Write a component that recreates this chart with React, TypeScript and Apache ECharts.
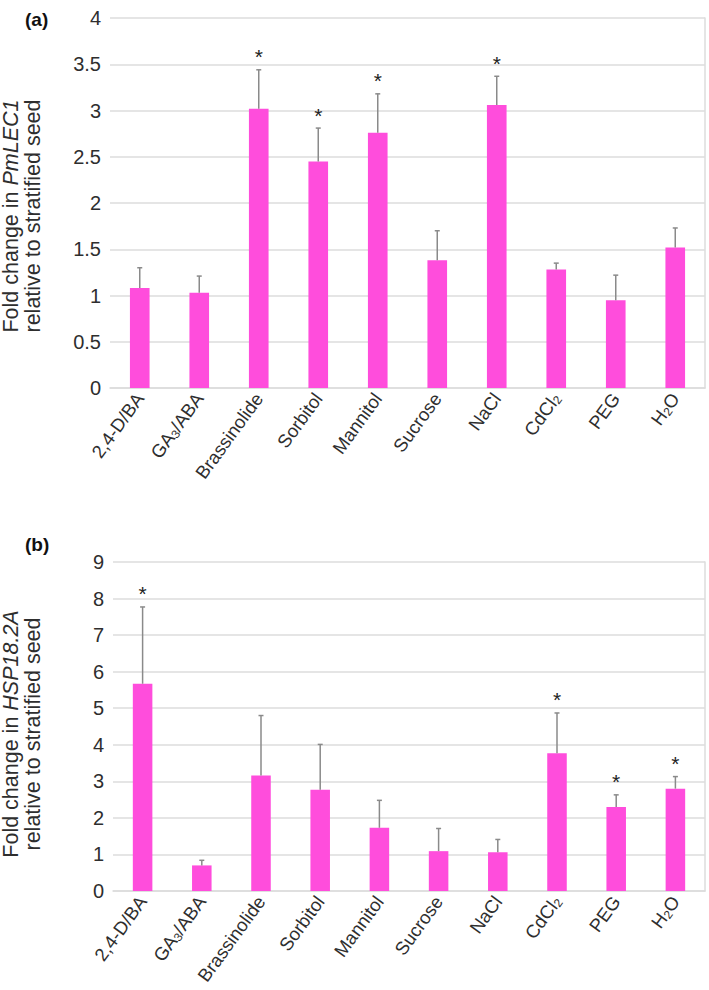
import React, { useEffect, useRef } from "react";
import * as echarts from "echarts";

const categories = ["2,4-D/BA", "GA3/ABA", "Brassinolide", "Sorbitol", "Mannitol", "Sucrose", "NaCl", "CdCl2", "PEG", "H2O"];

// (a) PmLEC1
const valuesA = [1.08, 1.03, 3.02, 2.45, 2.76, 1.38, 3.06, 1.28, 0.95, 1.52];
const errorsA = [0.22, 0.18, 0.42, 0.36, 0.42, 0.32, 0.31, 0.07, 0.27, 0.21];
const sigA = [0, 0, 1, 1, 1, 0, 1, 0, 0, 0];

// (b) HSP18.2A
const valuesB = [5.67, 0.7, 3.16, 2.77, 1.73, 1.09, 1.06, 3.77, 2.3, 2.8];
const errorsB = [2.1, 0.14, 1.64, 1.24, 0.75, 0.62, 0.35, 1.1, 0.33, 0.33];
const sigB = [1, 0, 0, 0, 0, 0, 0, 1, 1, 1];

const FONT = "'Liberation Sans', Arial, sans-serif";
const BAR = "#ff4ddc";
const GRID = "#dcdcdc";
const TXT = "#2e2e2e";

const subLabel = (s: string) => s.replace(/([A-Za-z])(\d)/g, "$1{s|$2}");

function errSeries(xi: number, vals: number[], errs: number[], sig: number[]) {
  return {
    type: "custom",
    xAxisIndex: xi,
    yAxisIndex: xi * 2,
    z: 5,
    data: vals.map((v, i) => [i, v, errs[i], sig[i]]),
    renderItem: (params: any, api: any) => {
      const i = api.value(0);
      const v = api.value(1);
      const e = api.value(2);
      const s = api.value(3);
      const base = api.coord([i, v]);
      const top = api.coord([i, v + e]);
      const children: any[] = [
        { type: "line", shape: { x1: base[0], y1: base[1], x2: top[0], y2: top[1] }, style: { stroke: "#8a8a8a", lineWidth: 1.5 } },
        { type: "line", shape: { x1: top[0] - 2.5, y1: top[1], x2: top[0] + 2.5, y2: top[1] }, style: { stroke: "#8a8a8a", lineWidth: 1.5 } },
      ];
      if (s) {
        children.push({
          type: "text",
          x: top[0],
          y: top[1] - 13,
          style: { text: "*", fontSize: 21, fontFamily: FONT, fill: "#222", align: "center", verticalAlign: "middle" },
        });
      }
      return { type: "group", children };
    },
  };
}

function xAxis(gi: number) {
  return {
    type: "category",
    gridIndex: gi,
    data: categories,
    axisLine: { show: true, lineStyle: { color: GRID, width: 1.5 } },
    axisTick: { show: false },
    axisLabel: {
      rotate: 54,
      interval: 0,
      margin: 7,
      color: TXT,
      fontSize: 18.5,
      fontFamily: FONT,
      lineHeight: 20,
      formatter: (v: string) => subLabel(v),
      rich: { s: { fontSize: 12, fontFamily: FONT, color: TXT, lineHeight: 7, verticalAlign: "bottom" } },
    },
  };
}

function yAxis(gi: number, max: number, interval: number) {
  return {
    type: "value",
    gridIndex: gi,
    min: 0,
    max,
    interval,
    axisLine: { show: false },
    axisTick: { show: false },
    axisLabel: { color: TXT, fontSize: 20, fontFamily: FONT, margin: 9 },
    splitLine: { lineStyle: { color: GRID, width: 1.5 } },
  };
}

function borderAxis(gi: number, max: number) {
  return {
    type: "value",
    gridIndex: gi,
    position: "right",
    min: 0,
    max,
    axisLine: { show: true, lineStyle: { color: GRID, width: 1.5 } },
    axisTick: { show: false },
    axisLabel: { show: false },
    splitLine: { show: false },
  };
}

export default function App() {
  const ref = useRef<HTMLDivElement>(null);
  useEffect(() => {
    if (!ref.current) return;
    const chart = echarts.init(ref.current, null, { renderer: "svg" });
    const titleStyle = (line1: string, gene: string) => ({
      text: `${line1}{i|${gene}}\nrelative to stratified seed`,
      fontSize: 21.5,
      fontFamily: FONT,
      fill: TXT,
      align: "center",
      verticalAlign: "middle",
      lineHeight: 22,
      rich: { i: { fontSize: 21.5, fontFamily: FONT, fontStyle: "italic", fill: TXT, lineHeight: 22 } },
    });
    chart.setOption({
      animation: false,
      backgroundColor: "#ffffff",
      grid: [
        { left: 110, right: 4, top: 18, height: 370, outerBoundsMode: "none" },
        { left: 113, right: 4, top: 562, height: 329, outerBoundsMode: "none" },
      ],
      xAxis: [xAxis(0), xAxis(1)],
      yAxis: [yAxis(0, 4, 0.5), borderAxis(0, 4), yAxis(1, 9, 1), borderAxis(1, 9)],
      series: [
        { type: "bar", xAxisIndex: 0, yAxisIndex: 0, data: valuesA, barWidth: "33%", itemStyle: { color: BAR } },
        errSeries(0, valuesA, errorsA, sigA),
        { type: "bar", xAxisIndex: 1, yAxisIndex: 2, data: valuesB, barWidth: "33%", itemStyle: { color: BAR } },
        errSeries(1, valuesB, errorsB, sigB),
      ],
      graphic: [
        { type: "text", left: 25, top: 10, style: { text: "(a)", fontSize: 19, fontWeight: "bold", fontFamily: FONT, fill: "#111" } },
        { type: "text", left: 25, top: 535, style: { text: "(b)", fontSize: 19, fontWeight: "bold", fontFamily: FONT, fill: "#111" } },
        { type: "text", x: 22, y: 216, rotation: Math.PI / 2, style: titleStyle("Fold change in ", "PmLEC1") },
        { type: "text", x: 22, y: 734, rotation: Math.PI / 2, style: titleStyle("Fold change in ", "HSP18.2A") },
      ],
    });
    return () => chart.dispose();
  }, []);
  return <div ref={ref} style={{ position: "absolute", left: 0, top: 0, width: 709, height: 990 }} />;
}
